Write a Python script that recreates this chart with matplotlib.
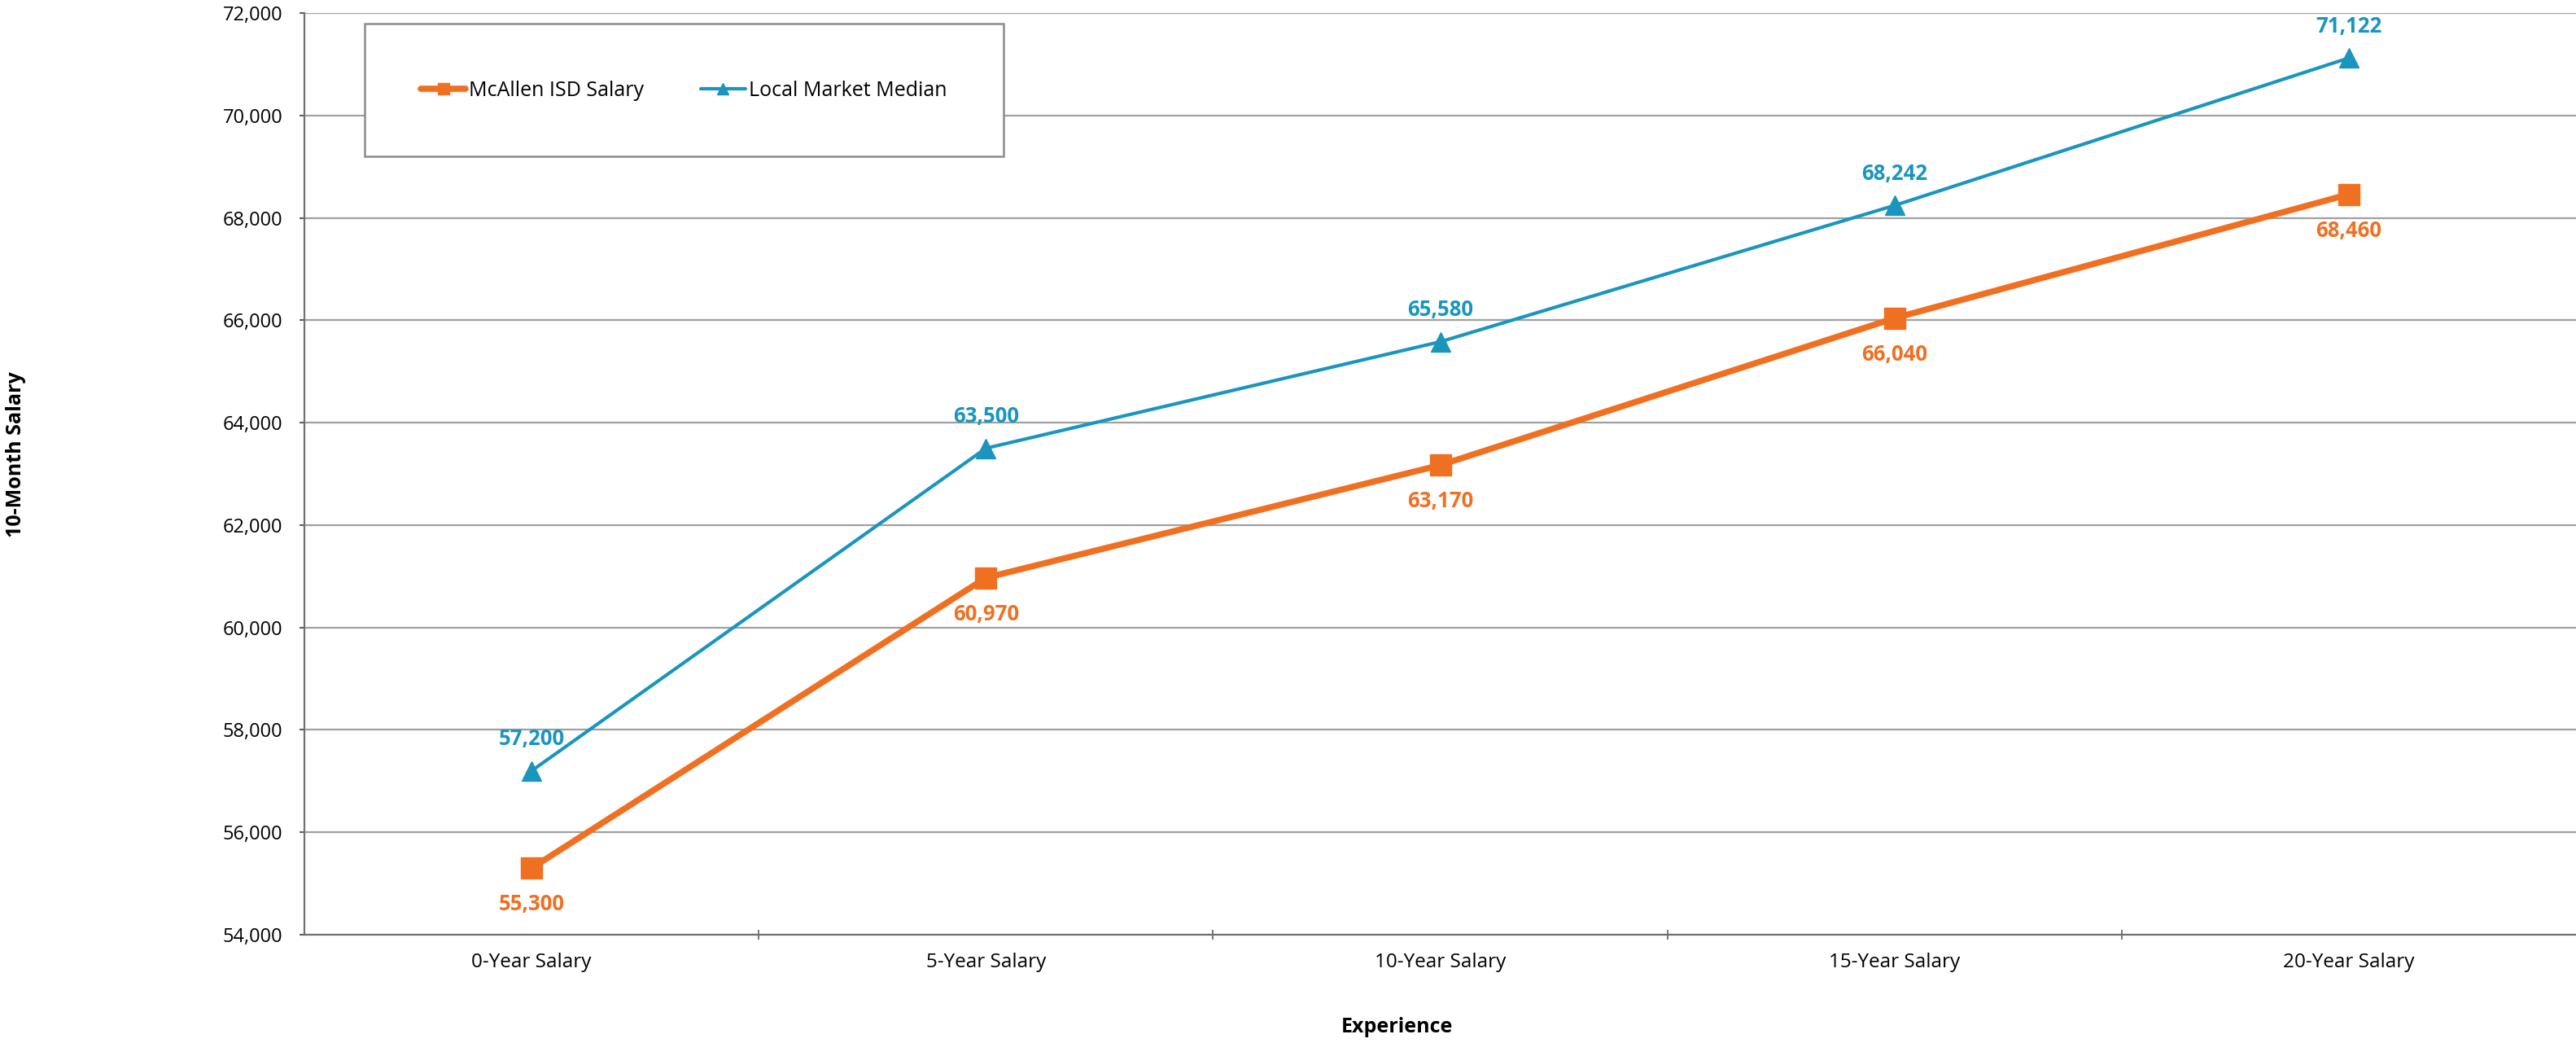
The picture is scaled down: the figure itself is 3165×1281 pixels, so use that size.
import matplotlib
matplotlib.use("Agg")
import matplotlib.pyplot as plt
from matplotlib.lines import Line2D
from matplotlib.patches import Rectangle
from matplotlib.ticker import FuncFormatter

plt.rcParams['font.family'] = ['Open Sans', 'DejaVu Sans']

categories = ['0-Year Salary', '5-Year Salary', '10-Year Salary', '15-Year Salary', '20-Year Salary']
mcallen = [55300, 60970, 63170, 66040, 68460]
market = [57200, 63500, 65580, 68242, 71122]
yticks = list(range(54000, 72001, 2000))

ORANGE = '#F07022'
BLUE = '#1A96BE'

def main():
    fig = plt.figure(figsize=(31.65, 12.81), dpi=100)
    W, H = 3165, 1281
    ax = fig.add_axes([374 / W, 1 - 1148 / H, 1 - 374 / W, (1148 - 16) / H])

    x = list(range(len(categories)))

    ax.plot(x, mcallen, color=ORANGE, lw=5.5, marker='s', ms=19, zorder=5)
    ax.plot(x, market, color=BLUE, lw=3.0, marker='^', ms=17, zorder=5)

    for xi, v in zip(x, mcallen):
        ax.annotate(f"{v:,}", (xi, v), xytext=(0, -32), textcoords='offset points',
                    ha='center', va='center', color=ORANGE, fontsize=18.5,
                    fontweight='bold', zorder=6)
    for xi, v in zip(x, market):
        ax.annotate(f"{v:,}", (xi, v), xytext=(0, 28), textcoords='offset points',
                    ha='center', va='center', color=BLUE, fontsize=18.5,
                    fontweight='bold', zorder=6)

    ax.set_xlim(-0.5, len(categories) - 0.5)
    ax.set_ylim(54000, 72000)
    ax.set_yticks(yticks)
    ax.yaxis.set_major_formatter(FuncFormatter(lambda v, p: f"{int(v):,}"))
    ax.tick_params(axis='y', direction='out', length=4, width=1.5, color='#606060',
                   labelsize=17, pad=15)

    # category labels in the middle, tick marks on the boundaries
    ax.set_xticks([i + 0.5 for i in range(len(categories) - 1)])
    ax.set_xticklabels([])
    ax.set_xticks(x, minor=True)
    ax.set_xticklabels(categories, minor=True)
    ax.tick_params(axis='x', which='major', direction='inout', length=9, width=1.2,
                   color='#606060')
    ax.tick_params(axis='x', which='minor', length=0, labelsize=17.5, pad=16)

    ax.grid(axis='y', color='#A0A0A0', lw=1.6, zorder=0)
    ax.set_axisbelow(True)
    for s in ['top', 'right']:
        ax.spines[s].set_visible(False)
    for s in ['left', 'bottom']:
        ax.spines[s].set_color('#707070')
        ax.spines[s].set_linewidth(1.6)

    fig.text(20 / W, 1 - 558 / H, '10-Month Salary', rotation=90, ha='center',
             va='center', fontsize=18, fontweight='bold')
    fig.text(1716 / W, 1 - 1261 / H, 'Experience', ha='center', va='center',
             fontsize=18, fontweight='bold')

    # legend box
    box = Rectangle((448 / W, 1 - 192 / H), (1233 - 448) / W, (192 - 29) / H,
                    transform=fig.transFigure, facecolor='white', edgecolor='#8C8C8C',
                    lw=1.8, zorder=3)
    ax.add_patch(box)
    handles = [
        Line2D([], [], color=ORANGE, lw=5.5, marker='s', ms=10, solid_capstyle='round'),
        Line2D([], [], color=BLUE, lw=3.0, marker='^', ms=10, solid_capstyle='round'),
    ]
    leg = ax.legend(handles, ['McAllen ISD Salary', 'Local Market Median'], ncol=2,
                    loc='center', bbox_to_anchor=(840 / W, 1 - 111 / H),
                    bbox_transform=fig.transFigure, frameon=False, fontsize=18,
                    handlelength=2.2, handletextpad=0.15, columnspacing=2.8)
    leg.set_zorder(7)

    fig.savefig('out.png', dpi=100)

if __name__ == '__main__':
    main()
